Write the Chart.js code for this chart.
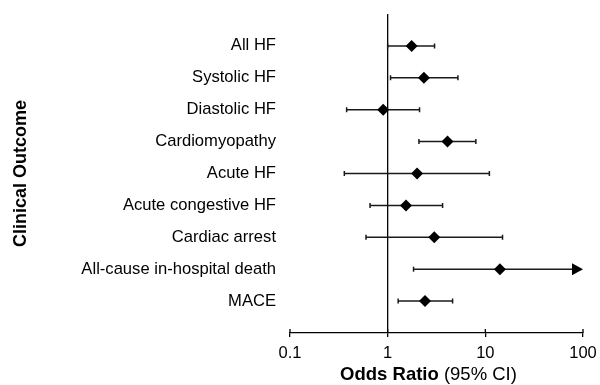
<!DOCTYPE html>
<html>
<head>
<meta charset="utf-8">
<script src="https://cdn.jsdelivr.net/npm/chart.js@4"></script>
<style>
  html, body { margin: 0; padding: 0; background: #fff; }
</style>
</head>
<body>
<canvas id="forest" width="600" height="385"></canvas>
<script>
// outcomes top to bottom
const outcomes = ["All HF", "Systolic HF", "Diastolic HF", "Cardiomyopathy", "Acute HF",
                  "Acute congestive HF", "Cardiac arrest", "All-cause in-hospital death", "MACE"];
const oddsRatios = [1.76, 2.35, 0.90, 4.10, 2.00, 1.54, 3.00, 14.1, 2.41];
const lowerCI = [1.00, 1.07, 0.38, 2.09, 0.36, 0.66, 0.60, 1.84, 1.28];
const upperCI = [3.02, 5.24, 2.12, 8.00, 11.0, 3.65, 15.0, 130, 4.62]; // all-cause goes past the axis
const xTicks = [0.1, 1, 10, 100];

const fontName = "'Liberation Sans', Arial, sans-serif";

// points for the scatter, y is the row index
let points = [];
for (let i = 0; i < outcomes.length; i++) {
    points.push({ x: oddsRatios[i], y: i });
}

// draws the confidence interval lines, the reference line at 1 and the axis tick marks
const forestPlugin = {
    id: "forestPlugin",
    beforeDatasetsDraw(chart) {
        const ctx = chart.ctx;
        const xs = chart.scales.x;
        const ys = chart.scales.y;
        const area = chart.chartArea;

        ctx.save();
        // line of no effect
        ctx.strokeStyle = "#000";
        ctx.lineWidth = 1.3;
        ctx.beginPath();
        ctx.moveTo(xs.getPixelForValue(1), area.top);
        ctx.lineTo(xs.getPixelForValue(1), area.bottom);
        ctx.stroke();

        // upper half of the tick marks on the x axis
        xTicks.forEach((t) => {
            const px = xs.getPixelForValue(t);
            ctx.beginPath();
            ctx.moveTo(px, area.bottom - 4);
            ctx.lineTo(px, area.bottom);
            ctx.stroke();
        });

        // whiskers
        ctx.strokeStyle = "#1a1a1a";
        ctx.fillStyle = "#000";
        for (let i = 0; i < outcomes.length; i++) {
            const y = ys.getPixelForValue(i);
            const x1 = xs.getPixelForValue(lowerCI[i]);
            const clipped = upperCI[i] > xs.max;
            const x2 = xs.getPixelForValue(clipped ? xs.max : upperCI[i]);
            ctx.lineWidth = 1.5;
            ctx.beginPath();
            ctx.moveTo(x1, y);
            ctx.lineTo(clipped ? x2 - 10 : x2, y);
            ctx.stroke();
            // caps
            ctx.beginPath();
            ctx.moveTo(x1, y - 2.5);
            ctx.lineTo(x1, y + 2.5);
            if (!clipped) {
                ctx.moveTo(x2, y - 2.5);
                ctx.lineTo(x2, y + 2.5);
            }
            ctx.stroke();
            if (clipped) {
                // arrow head when the interval goes off the axis
                ctx.beginPath();
                ctx.moveTo(x2 - 11, y - 6);
                ctx.lineTo(x2, y);
                ctx.lineTo(x2 - 11, y + 6);
                ctx.closePath();
                ctx.fill();
            }
        }
        ctx.restore();
    },
    afterDraw(chart) {
        // x title has a bold part and a normal part
        const ctx = chart.ctx;
        const area = chart.chartArea;
        const boldText = "Odds Ratio";
        const normText = " (95% CI)";
        ctx.save();
        ctx.fillStyle = "#000";
        ctx.textBaseline = "middle";
        ctx.font = "bold 18.5px " + fontName;
        const w1 = ctx.measureText(boldText).width;
        ctx.font = "18.5px " + fontName;
        const w2 = ctx.measureText(normText).width;
        let startX = (area.left + area.right) / 2 - 8 - (w1 + w2) / 2;
        ctx.font = "bold 18.5px " + fontName;
        ctx.fillText(boldText, startX, 375);
        ctx.font = "18.5px " + fontName;
        ctx.fillText(normText, startX + w1, 375);
        ctx.restore();
    }
};

new Chart("forest", {
    type: "scatter",
    data: {
        datasets: [{
            data: points,
            pointStyle: "rectRot",
            pointRadius: 6,
            pointHoverRadius: 6,
            backgroundColor: "#000",
            borderColor: "#000",
            borderWidth: 0
        }]
    },
    options: {
        responsive: false,
        animation: false,
        events: [],
        layout: {
            padding: { top: 14, right: 17, bottom: 0, left: 0 }
        },
        plugins: {
            legend: { display: false },
            tooltip: { enabled: false }
        },
        scales: {
            x: {
                type: "logarithmic",
                min: 0.1,
                max: 100,
                afterBuildTicks: (scale) => {
                    scale.ticks = xTicks.map((v) => ({ value: v }));
                },
                afterFit: (scale) => {
                    scale.height = 52;
                    scale.paddingLeft = 0;
                    scale.paddingRight = 0;
                },
                ticks: {
                    callback: (v) => String(v),
                    color: "#000",
                    padding: 7,
                    maxRotation: 0,
                    font: { family: fontName, size: 16.5 }
                },
                grid: {
                    drawOnChartArea: false,
                    drawTicks: true,
                    tickLength: 4,
                    color: "#000",
                    lineWidth: 1.3
                },
                border: { display: true, color: "#000", width: 1.3 }
            },
            y: {
                type: "linear",
                reverse: true,
                min: -1,
                max: 9,
                afterBuildTicks: (scale) => {
                    scale.ticks = outcomes.map((o, i) => ({ value: i }));
                },
                afterFit: (scale) => {
                    scale.width = 290;
                    scale.paddingTop = 0;
                    scale.paddingBottom = 0;
                },
                ticks: {
                    callback: (v) => outcomes[v] || "",
                    color: "#000",
                    padding: 14,
                    font: { family: fontName, size: 16.6 }
                },
                grid: { display: false, drawTicks: false },
                border: { display: false },
                title: {
                    display: true,
                    text: "Clinical Outcome",
                    color: "#000",
                    padding: { top: 10, bottom: 0 },
                    font: { family: fontName, size: 18, weight: "bold" }
                }
            }
        }
    },
    plugins: [forestPlugin]
});
</script>
</body>
</html>
